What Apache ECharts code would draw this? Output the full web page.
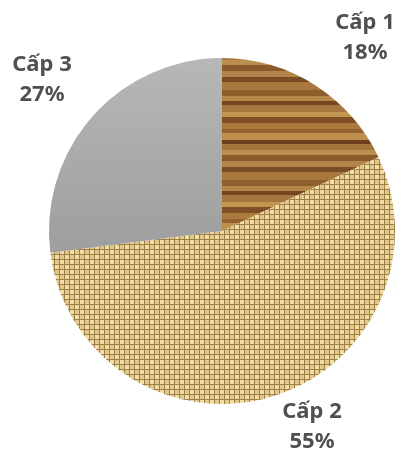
<!DOCTYPE html>
<html>
<head>
<meta charset="utf-8">
<script src="https://cdn.jsdelivr.net/npm/echarts@6/dist/echarts.min.js"></script>
<style>html,body{margin:0;padding:0;background:#fff;}#c{width:401px;height:456px;}</style>
</head>
<body>
<div id="c"></div>
<script>
const categories = ['Cấp 1', 'Cấp 2', 'Cấp 3'];
const values = [18, 55, 27];

function woodPattern() {
  const c = document.createElement('canvas');
  c.width = 64; c.height = 90;
  const g = c.getContext('2d');
  g.fillStyle = '#a06e36'; g.fillRect(0, 0, 64, 90);
  const stripes = [
    [0, 6, '#8e5e2c'], [6, 5, '#b5864a'], [11, 4, '#74461f'], [15, 7, '#a67640'],
    [22, 5, '#c0964f'], [27, 6, '#7e4e26'], [33, 6, '#ac7a3e'], [39, 4, '#93602e'],
    [43, 7, '#bd8e4c'], [50, 4, '#6c3e1e'], [54, 6, '#a5743a'], [60, 5, '#b98e4e'],
    [65, 6, '#8a5a2a'], [71, 6, '#b2844a'], [77, 5, '#7a4c24'], [82, 8, '#a8783e']
  ];
  stripes.forEach(s => { g.fillStyle = s[2]; g.fillRect(0, s[0], 64, s[1]); });
  return c;
}
function burlapPattern() {
  const c = document.createElement('canvas');
  c.width = 10; c.height = 10;
  const g = c.getContext('2d');
  g.fillStyle = '#d6ba7a'; g.fillRect(0, 0, 10, 10);
  g.fillStyle = '#f0dea6'; g.fillRect(0, 0, 4, 4); g.fillRect(5, 5, 4, 4);
  g.fillStyle = '#e2c88a'; g.fillRect(5, 0, 4, 4); g.fillRect(0, 5, 4, 4);
  g.fillStyle = '#9e7f45';
  g.fillRect(4, 0, 1, 10); g.fillRect(9, 0, 1, 10);
  g.fillRect(0, 4, 10, 1); g.fillRect(0, 9, 10, 1);
  return c;
}

const fills = [
  { image: woodPattern(), repeat: 'repeat' },
  { image: burlapPattern(), repeat: 'repeat' },
  { type: 'linear', x: 0, y: 0, x2: 0, y2: 1,
    colorStops: [{ offset: 0, color: '#b7b7b7' }, { offset: 1, color: '#9e9e9e' }] }
];
const labelPos = [[365, 38], [312, 427], [42, 80]];

const chart = echarts.init(document.getElementById('c'));
chart.setOption({
  animation: false,
  series: [{
    type: 'pie',
    center: [222, 231],
    radius: 173,
    startAngle: 90,
    clockwise: true,
    data: categories.map((n, i) => ({ name: n, value: values[i], itemStyle: { color: fills[i] } })),
    itemStyle: { borderWidth: 0 },
    label: {
      show: true,
      position: 'outside',
      formatter: '{b}\n{c}%',
      fontFamily: 'Noto Sans',
      fontWeight: 'bold',
      fontSize: 22,
      lineHeight: 30,
      color: '#505050',
      align: 'center',
      overflow: 'none',
      width: 120
    },
    labelLine: { show: false },
    labelLayout: function (p) {
      const pos = labelPos[p.dataIndex];
      return { x: pos[0], y: pos[1], align: 'center', verticalAlign: 'middle' };
    }
  }]
});
</script>
</body>
</html>
